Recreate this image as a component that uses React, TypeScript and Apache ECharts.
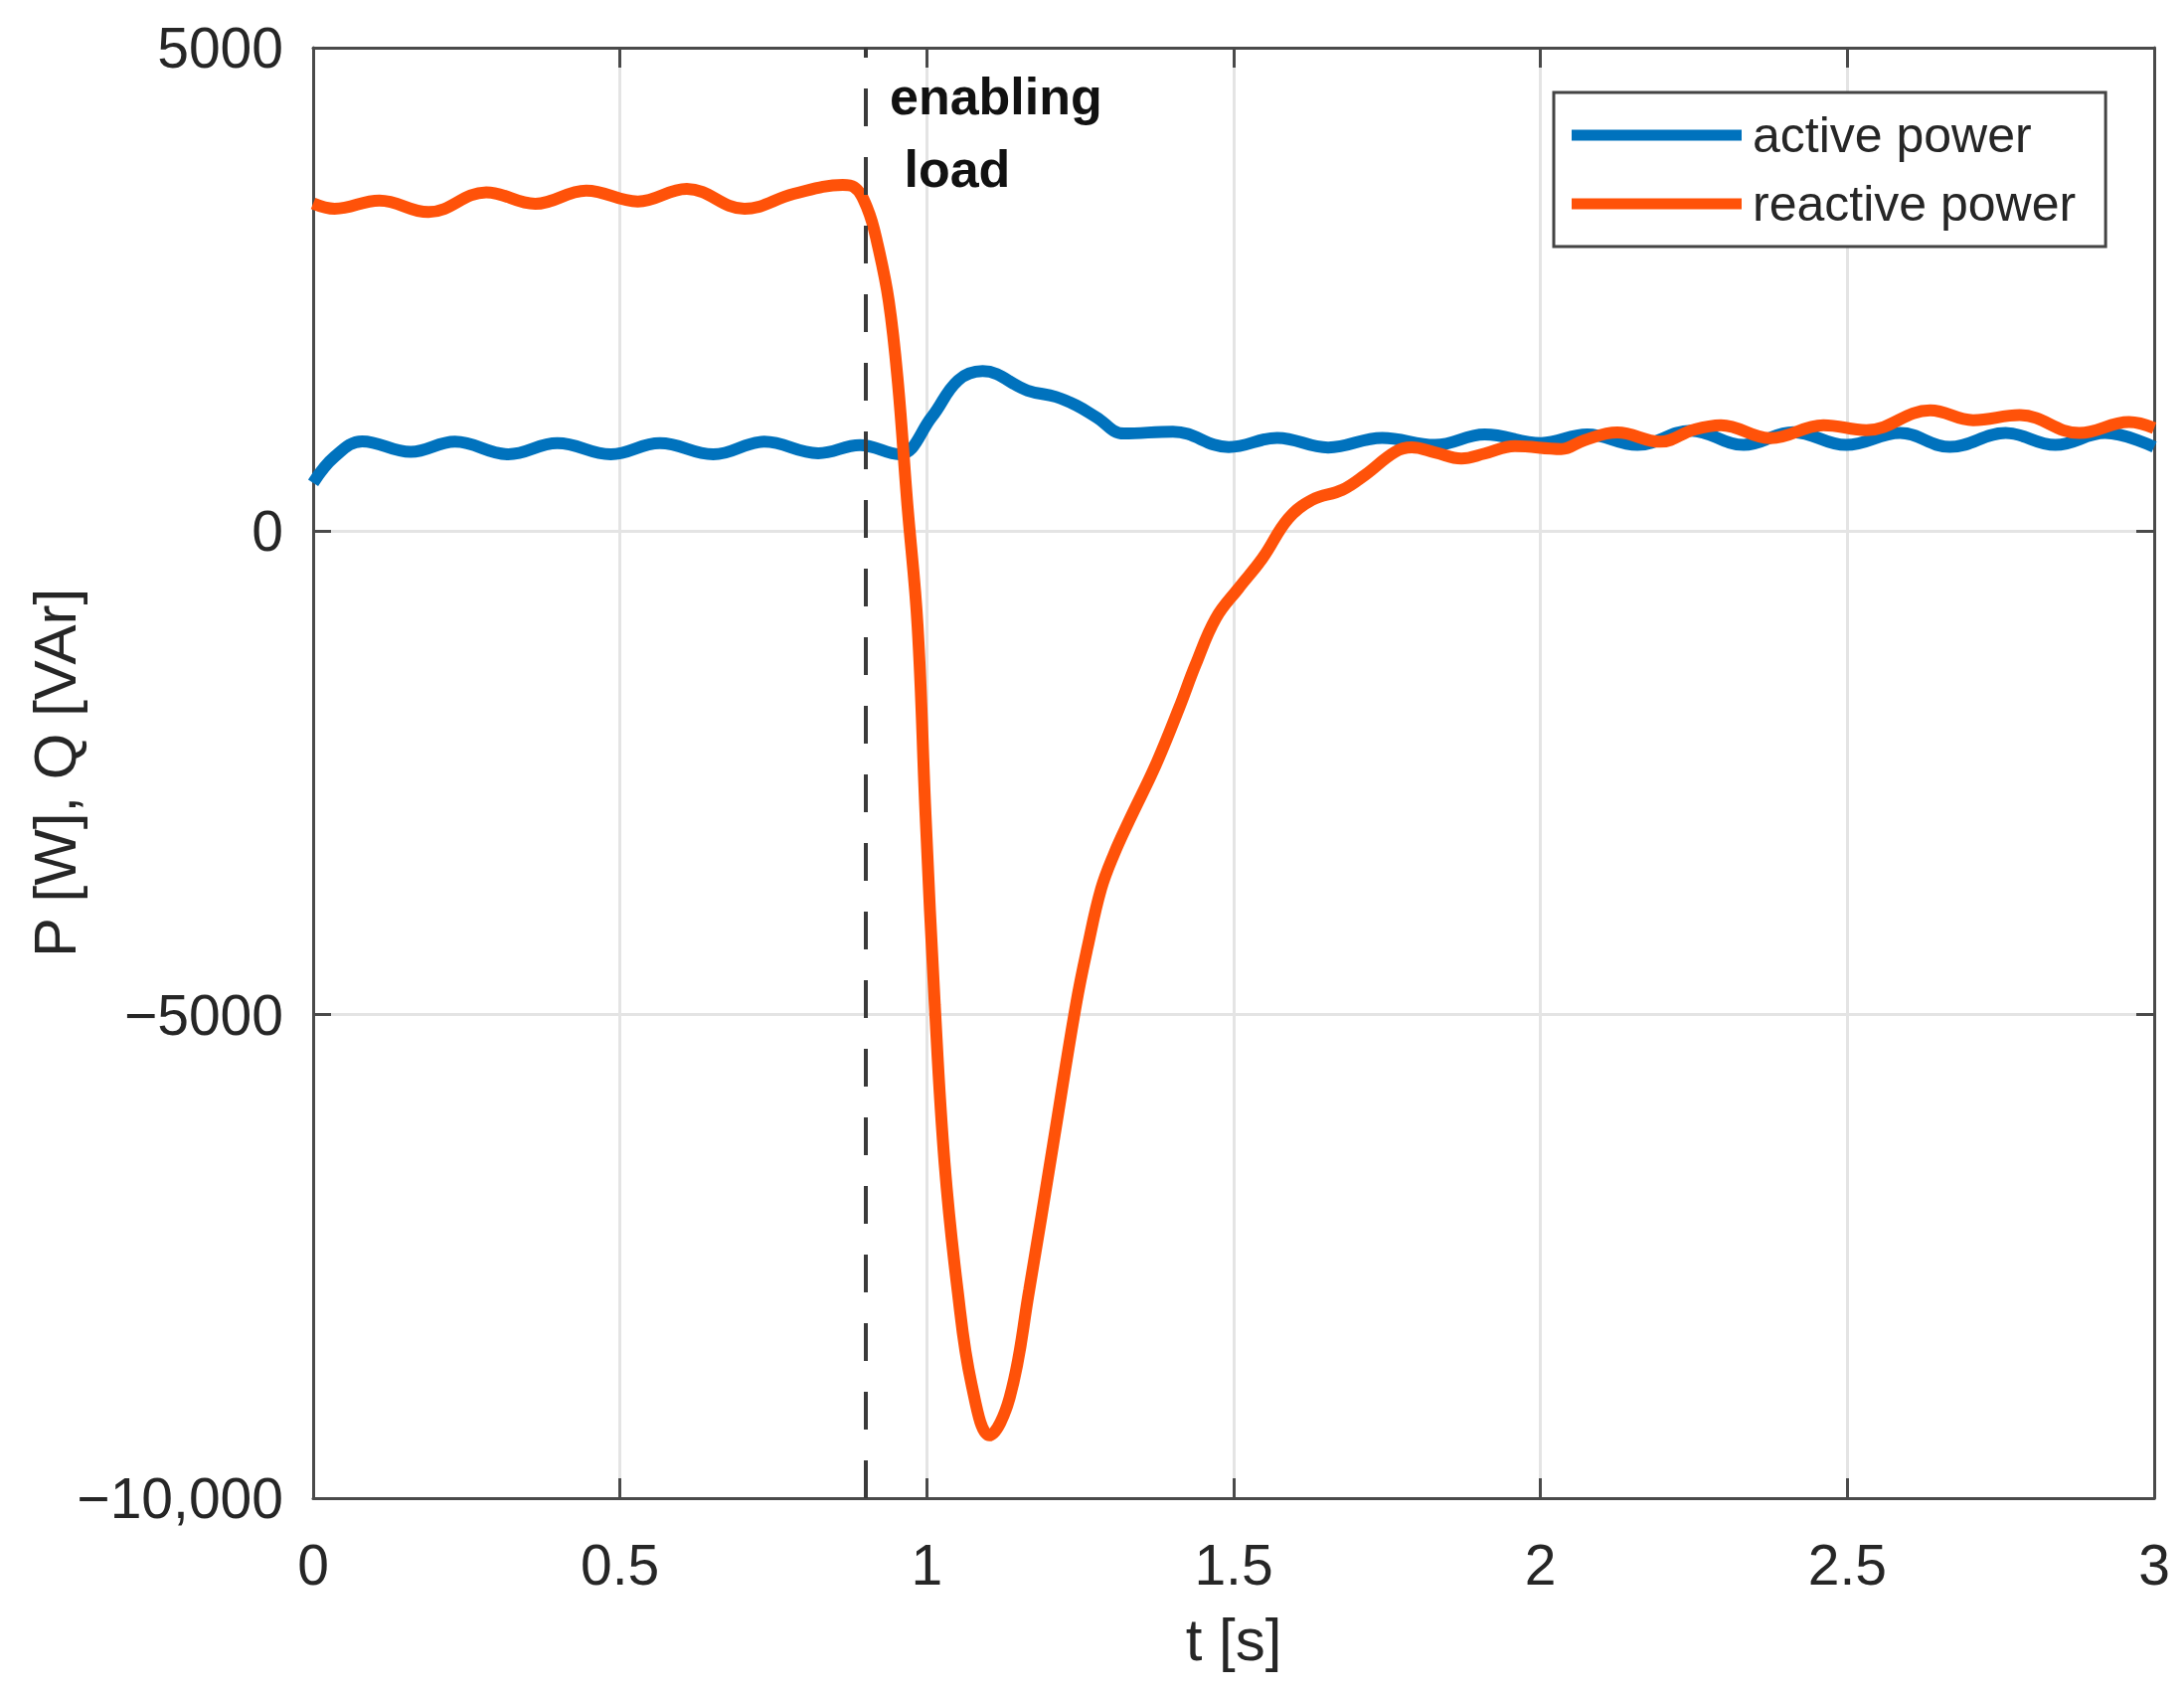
import React, { useEffect, useRef } from "react";
import * as echarts from "echarts";

// ---- data ----
const T_ACTIVE = [
  0, 0.035, 0.08, 0.159, 0.231, 0.318, 0.398, 0.485, 0.565, 0.652, 0.735, 0.823, 0.891, 0.955,
  1.008, 1.051, 1.091, 1.164, 1.21, 1.244, 1.276, 1.321, 1.401, 1.492, 1.571, 1.654, 1.742,
  1.828, 1.909, 2.001, 2.076, 2.158, 2.245, 2.331, 2.412, 2.498, 2.586, 2.667, 2.758, 2.839,
  2.92, 3.0,
];
const P_ACTIVE = [
  500, 770, 930, 820, 925, 795, 910, 795, 910, 795, 925, 806, 890, 795,
  1180, 1560, 1655, 1455, 1390, 1300, 1180, 1010, 1030, 870, 965, 865, 965,
  892, 1000, 912, 1000, 892, 1040, 892, 1025, 892, 1015, 871, 1015, 892,
  1015, 871,
];

const T_REACTIVE = [
  0, 0.035, 0.108, 0.188, 0.282, 0.362, 0.445, 0.529, 0.609, 0.703, 0.783, 0.863, 0.881,
  0.903, 0.92, 0.938, 0.953, 0.968, 0.985, 0.998, 1.013, 1.029, 1.05, 1.073, 1.102, 1.135,
  1.167, 1.206, 1.243, 1.262, 1.284, 1.305, 1.33, 1.373, 1.411, 1.438, 1.471, 1.508, 1.547, 1.589,
  1.628, 1.677, 1.714, 1.763, 1.79, 1.828, 1.871, 1.909, 1.958, 2.034, 2.071, 2.125, 2.195,
  2.25, 2.294, 2.375, 2.461, 2.531, 2.635, 2.705, 2.781, 2.878, 2.959, 3.0,
];
const Q_REACTIVE = [
  3390, 3335, 3420, 3300, 3505, 3386, 3522, 3410, 3540, 3335, 3489, 3580, 3560,
  3340, 2960, 2380, 1530, 300, -984, -2942, -4900, -6540, -7841, -8825, -9350, -8960,
  -7841, -6335, -4900, -4300, -3700, -3340, -2990, -2418, -1830, -1380, -900, -590, -280, 130,
  325, 427, 581, 820, 866, 815, 752, 803, 880, 850, 940, 1020, 925,
  1050, 1097, 963, 1097, 1045, 1250, 1148, 1200, 1015, 1128, 1066,
];

const X_MIN = 0;
const X_MAX = 3;
const X_STEP = 0.5;
const Y_TICKS = [-10000, -5000, 0, 5000];
const Y_TICK_LABELS = ["\u221210,000", "\u22125000", "0", "5000"];
const LOAD_TIME = 0.9;

const SERIES_NAMES = ["active power", "reactive power"];
const COLORS = ["#0072BD", "#FF5209"];
const ANNOTATION = "enabling\n load";

const FONT = "'Liberation Sans', Arial, Helvetica, sans-serif";

export default function App() {
  const ref = useRef<HTMLDivElement>(null);

  useEffect(() => {
    if (!ref.current) return;
    const chart = echarts.init(ref.current, undefined, { renderer: "svg" });

    const activeData = T_ACTIVE.map((t, i) => [t, P_ACTIVE[i]]);
    const reactiveData = T_REACTIVE.map((t, i) => [t, Q_REACTIVE[i]]);

    const axisLineStyle = { color: "#4a4a4a", width: 3 };
    const tickStyle = { color: "#4a4a4a", width: 3 };
    const gridStyle = { color: "#e4e4e4", width: 3 };

    const option: any = {
      animation: false,
      backgroundColor: "#ffffff",
      grid: { left: 315, right: 30, top: 48, bottom: 195, containLabel: false },
      xAxis: [
        {
          type: "value",
          min: X_MIN,
          max: X_MAX,
          interval: X_STEP,
          position: "bottom",
          name: "t [s]",
          nameLocation: "middle",
          nameGap: 112,
          nameMoveOverlap: false,
          nameTextStyle: { fontFamily: FONT, fontSize: 60, color: "#262626" },
          axisLine: { show: true, onZero: false, lineStyle: axisLineStyle },
          axisTick: { show: true, inside: true, length: 20, lineStyle: tickStyle },
          axisLabel: { fontFamily: FONT, fontSize: 57, color: "#262626", margin: 38 },
          splitLine: { show: true, lineStyle: gridStyle },
        },
        {
          type: "value",
          min: X_MIN,
          max: X_MAX,
          interval: X_STEP,
          position: "top",
          axisLine: { show: true, onZero: false, lineStyle: axisLineStyle },
          axisTick: { show: true, inside: true, length: 20, lineStyle: tickStyle },
          axisLabel: { show: false },
          splitLine: { show: false },
        },
      ],
      yAxis: [
        {
          type: "value",
          min: Y_TICKS[0],
          max: Y_TICKS[Y_TICKS.length - 1],
          interval: 5000,
          position: "left",
          name: "P [W], Q [VAr]",
          nameLocation: "middle",
          nameGap: 230,
          nameMoveOverlap: false,
          nameTextStyle: { fontFamily: FONT, fontSize: 60, color: "#262626" },
          axisLine: { show: true, onZero: false, lineStyle: axisLineStyle },
          axisTick: { show: true, inside: true, length: 18, lineStyle: tickStyle },
          axisLabel: {
            fontFamily: FONT,
            fontSize: 57,
            color: "#262626",
            margin: 30,
            formatter: (v: number) => {
              const i = Y_TICKS.indexOf(v);
              return i >= 0 ? Y_TICK_LABELS[i] : String(v);
            },
          },
          splitLine: { show: true, lineStyle: gridStyle },
        },
        {
          type: "value",
          min: Y_TICKS[0],
          max: Y_TICKS[Y_TICKS.length - 1],
          interval: 5000,
          position: "right",
          axisLine: { show: true, onZero: false, lineStyle: axisLineStyle },
          axisTick: { show: true, inside: true, length: 18, lineStyle: tickStyle },
          axisLabel: { show: false },
          splitLine: { show: false },
        },
      ],
      legend: {
        orient: "vertical",
        left: 1563,
        top: 93,
        padding: [18, 30, 18, 18],
        itemGap: 19,
        itemWidth: 171,
        itemHeight: 11,
        icon: "rect",
        borderColor: "#444444",
        borderWidth: 3,
        backgroundColor: "#ffffff",
        textStyle: {
          fontFamily: FONT,
          fontSize: 50,
          color: "#262626",
          lineHeight: 50,
          padding: [0, 0, 0, 6],
        },
        data: SERIES_NAMES,
      },
      series: [
        {
          name: SERIES_NAMES[0],
          type: "line",
          data: activeData,
          xAxisIndex: 0,
          yAxisIndex: 0,
          smooth: 0.4,
          showSymbol: false,
          symbol: "none",
          lineStyle: { color: COLORS[0], width: 12 },
          itemStyle: { color: COLORS[0] },
          z: 3,
        },
        {
          name: SERIES_NAMES[1],
          type: "line",
          data: reactiveData,
          xAxisIndex: 0,
          yAxisIndex: 0,
          smooth: 0.4,
          showSymbol: false,
          symbol: "none",
          lineStyle: { color: COLORS[1], width: 12 },
          itemStyle: { color: COLORS[1] },
          z: 4,
          markLine: {
            silent: true,
            symbol: "none",
            z: 10,
            label: { show: false },
            lineStyle: { color: "#3a3a3a", width: 4, type: [38, 31] },
            data: [{ xAxis: LOAD_TIME }],
          },
        },
      ],
      graphic: [
        {
          type: "text",
          left: 895,
          top: 60,
          z: 20,
          style: {
            text: ANNOTATION,
            fontFamily: FONT,
            fontSize: 52,
            fontWeight: "bold",
            lineHeight: 73,
            fill: "#111111",
          },
        },
      ],
    };

    chart.setOption(option);
    return () => {
      chart.dispose();
    };
  }, []);

  return (
    <div
      ref={ref}
      style={{ position: "fixed", left: 0, top: 0, width: 2197, height: 1702, background: "#fff" }}
    />
  );
}
